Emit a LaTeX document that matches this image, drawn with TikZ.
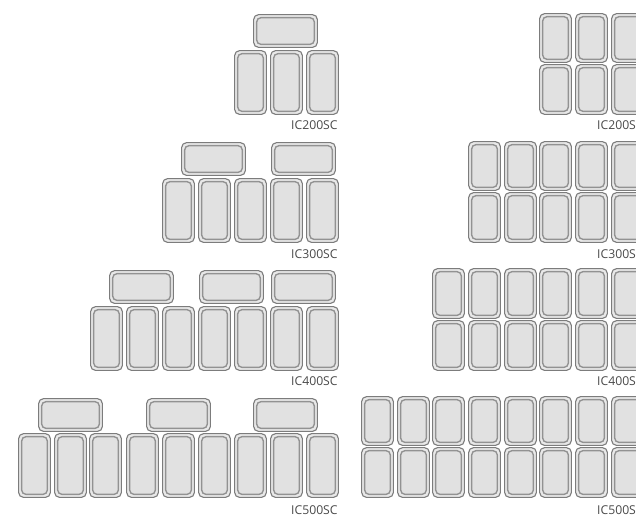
\documentclass[tikz,border=0pt]{standalone}
\usepackage{fontspec}
\setmainfont{Open Sans}
\definecolor{panedge}{HTML}{7C7C7C}
\definecolor{panmid}{HTML}{929292}
\definecolor{panrim}{HTML}{E9E9E9}
\definecolor{panfill}{HTML}{E1E1E1}
\definecolor{lab}{HTML}{4A4A4A}
\tikzset{
  panouter/.style={draw=panedge,fill=panrim,line width=1.1pt,rounded corners=5pt},
  paninner/.style={draw=panmid,fill=panfill,line width=1.4pt,rounded corners=4.5pt},
  modellabel/.style={text=lab,font=\fontsize{12.2}{14}\selectfont,inner sep=0pt,anchor=base west}
}
% \pan{left}{top}{right}{bottom} in reference pixels
\newcommand{\pan}[4]{%
  \draw[panouter] (#1+0.6,#2+0.6) rectangle (#3-0.6,#4-0.6);
  \draw[paninner] (#1+3.6,#2+3.6) rectangle (#3-3.6,#4-3.6);
}
\begin{document}
\begin{tikzpicture}[x=1pt,y=-1pt]
\useasboundingbox (0,0) rectangle (636,515);
\clip (0,0) rectangle (636,515);
\fill[white] (0,0) rectangle (636,515);
% left column: wide pans
\foreach \l/\t in {253/14, 181/142,271/142, 109/270,199/270,271/270, 38/398,146/398,253/398}
  \pan{\l}{\t}{\l+65}{\t+34};
% left column: tall pans
\foreach \l in {234,270,306} \pan{\l}{50}{\l+33}{115};
\foreach \l in {162,198,234,270,306} \pan{\l}{178}{\l+33}{243};
\foreach \l in {90,126,162,198,234,270,306} \pan{\l}{306}{\l+33}{371};
\foreach \l in {18,54,89,126,162,198,234,270,306} \pan{\l}{433}{\l+33}{498};
% right column: short pans in two rows
\foreach \l in {539,575,611} {\pan{\l}{13}{\l+33}{63}\pan{\l}{64}{\l+33}{115}}
\foreach \l in {468,504,539,575,611} {\pan{\l}{141}{\l+33}{191}\pan{\l}{192}{\l+33}{243}}
\foreach \l in {432,468,504,539,575,611} {\pan{\l}{268}{\l+33}{319}\pan{\l}{320}{\l+33}{371}}
\foreach \l in {361,397,432,468,504,539,575,611} {\pan{\l}{396}{\l+33}{446}\pan{\l}{447}{\l+33}{498}}
% labels
\node[modellabel] (a2) at (291,129.5) {IC200SC};
\node[modellabel] (a3) at (291,258.5) {IC300SC};
\node[modellabel] (a4) at (291,385.5) {IC400SC};
\node[modellabel] (a5) at (291,514) {IC500SC};
\node[modellabel] (b2) at (597,129.5) {IC200SC};
\node[modellabel] (b3) at (597,258.5) {IC300SC};
\node[modellabel] (b4) at (597,385.5) {IC400SC};
\node[modellabel] (b5) at (597,514) {IC500SC};
\end{tikzpicture}
\end{document}
